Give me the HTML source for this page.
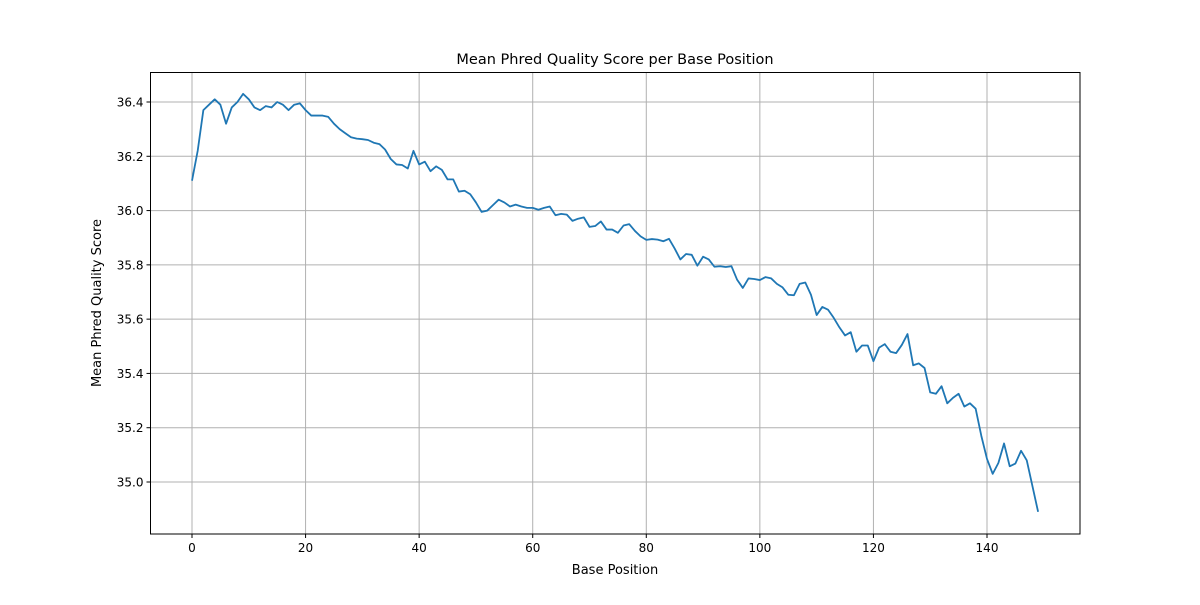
<!DOCTYPE html>
<html><head><meta charset="utf-8"><style>
body{margin:0;background:#fff;font-family:"Liberation Sans","DejaVu Sans",sans-serif;}
svg text{font-family:"DejaVu Sans","Liberation Sans",sans-serif;fill:#000;}
</style></head><body>
<svg id="chart" width="1200" height="600"></svg>
<script>
const positions=[];for(let i=0;i<150;i++)positions.push(i);
const meanScores=[36.11,36.22,36.37,36.39,36.41,36.39,36.32,36.38,36.40,36.43,36.41,36.38,36.37,36.385,36.38,36.40,36.39,36.37,36.39,36.395,36.37,36.35,36.35,36.35,36.345,36.32,36.30,36.285,36.27,36.265,36.263,36.26,36.25,36.245,36.225,36.19,36.17,36.168,36.155,36.22,36.17,36.18,36.145,36.163,36.15,36.115,36.115,36.07,36.073,36.06,36.03,35.995,36.00,36.02,36.04,36.03,36.015,36.022,36.015,36.01,36.01,36.003,36.01,36.015,35.983,35.988,35.985,35.962,35.97,35.975,35.94,35.943,35.96,35.93,35.93,35.918,35.945,35.95,35.925,35.905,35.892,35.895,35.893,35.887,35.896,35.86,35.82,35.84,35.837,35.797,35.83,35.82,35.793,35.795,35.792,35.795,35.745,35.715,35.75,35.748,35.744,35.755,35.75,35.73,35.717,35.69,35.688,35.73,35.735,35.69,35.615,35.645,35.635,35.605,35.57,35.54,35.552,35.48,35.503,35.503,35.445,35.495,35.508,35.48,35.475,35.505,35.545,35.43,35.437,35.42,35.33,35.325,35.353,35.29,35.31,35.325,35.278,35.29,35.27,35.17,35.085,35.03,35.07,35.142,35.058,35.068,35.115,35.08,34.985,34.89];
const xTicks=[0,20,40,60,80,100,120,140];
const yTicks=[35.0,35.2,35.4,35.6,35.8,36.0,36.2,36.4];
const NS="http://www.w3.org/2000/svg";
const svg=document.getElementById('chart');
const L=150.5,R=1080,T=72.5,B=534;
const X=v=>192+(v-0)*(987-192)/140;
const Y=v=>482-(v-35.0)*(482-102)/1.4;
function mk(t,a,p){const e=document.createElementNS(NS,t);for(const k in a)e.setAttribute(k,a[k]);(p||svg).appendChild(e);return e;}
const grid=mk('g',{});


xTicks.forEach(v=>{const x=X(v);
 mk('line',{x1:x,x2:x,y1:T,y2:B,stroke:'#b0b0b0','stroke-width':1},grid);
 mk('line',{x1:x,x2:x,y1:B,y2:B+4,stroke:'#000','stroke-width':1});
 const t=mk('text',{x:x,y:B+18,'text-anchor':'middle','font-size':12});t.textContent=v;
 
 
});
yTicks.forEach(v=>{const y=Y(v);
 mk('line',{x1:L,x2:R,y1:y,y2:y,stroke:'#b0b0b0','stroke-width':1},grid);
 mk('line',{x1:L-4,x2:L,y1:y,y2:y,stroke:'#000','stroke-width':1});
 const t=mk('text',{x:L-7,y:y+4.5,'text-anchor':'end','font-size':12});t.textContent=v.toFixed(1);
 
 
});
const d=positions.map((p,i)=>(i?'L':'M')+X(p).toFixed(2)+','+Y(meanScores[i]).toFixed(2)).join(' ');
const line=mk('path',{d:d,fill:'none',stroke:'#1f77b4','stroke-width':1.8,'stroke-linejoin':'round'});


const frame=mk('rect',{x:L,y:T,width:R-L,height:B-T,fill:'none',stroke:'#000','stroke-width':1});


const title=mk('text',{x:615,y:64,'text-anchor':'middle','font-size':14.5});title.textContent='Mean Phred Quality Score per Base Position';


const xl=mk('text',{x:615,y:574,'text-anchor':'middle','font-size':13});xl.textContent='Base Position';


const yl=mk('text',{x:101,y:303,'text-anchor':'middle','font-size':13,transform:'rotate(-90 101 303)'});yl.textContent='Mean Phred Quality Score';


</script>
</body></html>
